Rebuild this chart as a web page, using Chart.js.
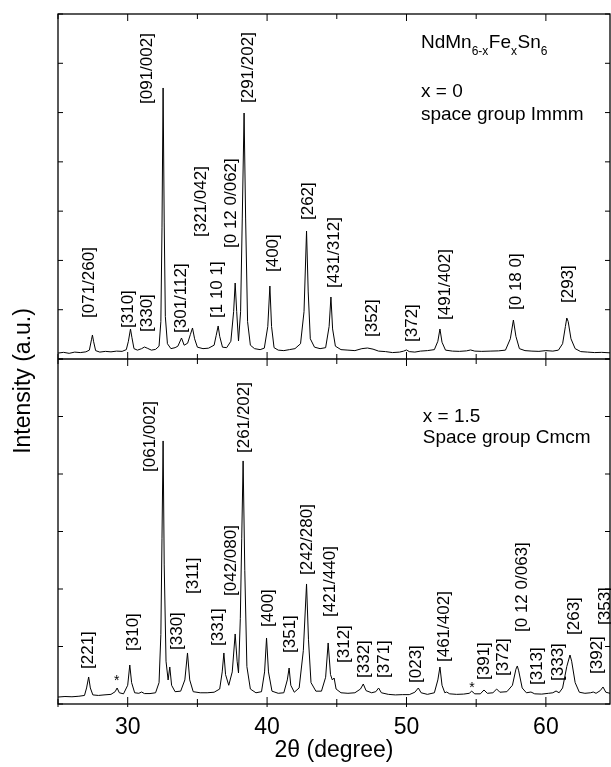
<!DOCTYPE html>
<html>
<head>
<meta charset="utf-8">
<script src="https://cdn.jsdelivr.net/npm/chart.js@4.4.1/dist/chart.umd.min.js"></script>
<style>
  html, body { margin: 0; padding: 0; background: #fff; }
  #wrap { width: 611px; height: 767px; }
</style>
</head>
<body>
<div id="wrap"><canvas id="xrd" width="611" height="767"></canvas></div>
<script>
// x = 0 pattern (upper panel)
const topAngle = [25.0, 25.4, 25.8, 26.2, 26.6, 27.0, 27.25, 27.4, 27.47, 27.55, 27.7, 28.0, 28.4, 28.8, 29.2, 29.6, 29.9,
  30.05, 30.2, 30.3, 30.45, 30.7, 31.0, 31.2, 31.4, 31.7, 32.0, 32.25, 32.38, 32.46, 32.54, 32.62, 32.7, 32.85,
  33.1, 33.4, 33.6, 33.86, 34.05, 34.3, 34.5, 34.65, 34.8, 35.0, 35.4, 35.8, 36.2, 36.35, 36.49, 36.6, 36.8,
  37.1, 37.4, 37.6, 37.71, 37.82, 37.95, 38.1, 38.22, 38.35, 38.46, 38.6, 38.8, 39.1, 39.5, 39.8, 40.05, 40.2,
  40.32, 40.5, 40.8, 41.2, 41.6, 42.0, 42.4, 42.65, 42.83, 42.95, 43.1, 43.4, 43.8, 44.2, 44.45, 44.58, 44.7,
  44.9, 45.3, 45.8, 46.3, 46.8, 47.2, 47.6, 48.0, 48.5, 49.0, 49.5, 49.8, 50.0, 50.2, 50.6, 51.0, 51.5, 52.0,
  52.25, 52.4, 52.55, 52.8, 53.3, 53.8, 54.3, 54.6, 54.9, 55.4, 56.0, 56.6, 57.1, 57.45, 57.67, 57.85, 58.1,
  58.5, 59.0, 59.5, 60.0, 60.5, 60.9, 61.2, 61.4, 61.5, 61.6, 61.8, 62.1, 62.5, 63.0, 63.5, 64.0, 64.6];
const topCounts = [60, 75, 55, 80, 70, 85, 120, 330, 427, 300, 110, 80, 95, 85, 100, 95, 130,
  300, 549, 380, 150, 120, 150, 183, 160, 120, 135, 200, 700, 2600, 5439, 2700, 800, 250,
  150, 170, 200, 366, 220, 260, 440, 569, 350, 180, 150, 160, 220, 420, 610, 400, 180,
  170, 300, 900, 1482, 900, 305, 900, 2800, 4931, 2800, 700, 220, 150, 130, 160, 600, 1421,
  600, 170, 120, 110, 130, 150, 250, 900, 2537, 1300, 350, 180, 150, 170, 600, 1198, 550,
  200, 130, 120, 110, 150, 163, 140, 100, 90, 70, 80, 100, 123, 90, 80, 100, 110, 130,
  300, 549, 280, 120, 100, 95, 105, 123, 100, 95, 100, 105, 120, 350, 731, 400, 150,
  110, 100, 95, 110, 100, 120, 250, 600, 772, 700, 350, 150, 90, 80, 70, 75, 65];

// x = 1.5 pattern (lower panel)
const botAngle = [25.0, 25.5, 26.0, 26.5, 26.9, 27.05, 27.2, 27.32, 27.5, 27.9, 28.3, 28.8, 29.1, 29.24, 29.4, 29.7,
  30.0, 30.15, 30.28, 30.5, 30.8, 31.0, 31.2, 31.6, 32.0, 32.25, 32.38, 32.46, 32.54, 32.62, 32.75, 32.9, 33.02,
  33.15, 33.4, 33.8, 34.1, 34.29, 34.45, 34.7, 35.2, 35.7, 36.2, 36.6, 36.78, 36.9, 37.02, 37.25, 37.5, 37.71,
  37.85, 37.95, 38.08, 38.18, 38.28, 38.4, 38.55, 38.8, 39.2, 39.6, 39.82, 39.96, 40.1, 40.35, 40.8, 41.2, 41.45,
  41.58, 41.7, 41.95, 42.3, 42.6, 42.83, 42.97, 43.15, 43.5, 43.9, 44.2, 44.38, 44.55, 44.68, 44.81, 44.95, 45.3,
  45.8, 46.3, 46.7, 46.9, 47.1, 47.5, 47.8, 48.0, 48.2, 48.7, 49.2, 49.7, 50.2, 50.6, 50.85, 51.05, 51.5, 52.0,
  52.25, 52.4, 52.55, 52.75, 52.88, 53.1, 53.6, 54.1, 54.5, 54.68, 54.9, 55.3, 55.56, 55.8, 56.2, 56.47, 56.7,
  57.2, 57.6, 57.85, 57.95, 58.05, 58.3, 58.6, 58.93, 59.2, 59.7, 60.2, 60.5, 60.73, 60.95, 61.2, 61.5, 61.73,
  61.85, 62.1, 62.4, 62.8, 63.2, 63.4, 63.6, 63.9, 64.1, 64.3, 64.6];
const botCounts = [30, 40, 35, 45, 60, 200, 405, 200, 70, 60, 70, 80, 130, 199, 110, 90,
  250, 629, 300, 110, 100, 124, 95, 95, 110, 300, 1200, 3000, 4818, 2500, 700, 349, 592,
  250, 130, 140, 350, 854, 350, 130, 110, 110, 120, 180, 500, 854, 450, 250, 500, 1209,
  700, 480, 1500, 3000, 4444, 2400, 600, 180, 110, 130, 500, 1134, 500, 140, 100, 110, 350,
  573, 250, 120, 200, 900, 2144, 1100, 300, 140, 140, 400, 1041, 450, 350, 386, 180, 110,
  100, 110, 180, 274, 150, 110, 130, 199, 110, 80, 70, 75, 75, 120, 199, 110, 80, 110,
  350, 592, 250, 110, 124, 90, 80, 85, 100, 140, 90, 90, 162, 100, 110, 180, 120,
  130, 250, 550, 611, 520, 200, 110, 124, 90, 85, 100, 110, 143, 110, 200, 600, 816,
  700, 300, 120, 100, 110, 124, 100, 150, 218, 120, 100];

// reflection labels: text, 2theta of label, counts at the foot of the label
const topTags = ['[071/260]', '[310]', '[330]', '[091/002]', '[301/112]', '[321/042]', '[1 10 1]', '[0 12 0/062]',
  '[291/202]', '[400]', '[262]', '[431/312]', '[352]', '[372]', '[491/402]', '[0 18 0]', '[293]'];
const topTagAngle = [27.2, 30.0, 31.37, 31.37, 33.74, 35.18, 36.39, 37.33, 38.55, 40.34, 42.85, 44.72, 47.45, 50.32, 52.69, 57.79, 61.52];
const topTagCounts = [772, 569, 488, 5114, 468, 2415, 772, 2192, 5134, 1705, 2760, 1381, 386, 285, 731, 934, 1076];

const botTags = ['[221]', '*', '[310]', '[061/002]', '[330]', '[311]', '[331]', '[042/080]', '[261/202]', '[400]', '[351]',
  '[242/280]', '[421/440]', '[312]', '[332]', '[371]', '[023]', '[461/402]', '*', '[391]', '[372]', '[0 12 0/063]',
  '[313]', '[333]', '[263]', '[392]', '[353]'];
const botTagAngle = [27.13, 29.21, 30.36, 31.58, 33.52, 34.6, 36.46, 37.33, 38.26, 40.05, 41.56, 42.78, 44.43, 45.44,
  46.87, 48.31, 50.61, 52.62, 54.7, 55.49, 56.85, 58.22, 59.3, 60.81, 61.96, 63.6, 64.17];
const botTagCounts = [555, 386, 891, 4238, 910, 1957, 985, 1920, 4594, 1340, 854, 2312, 1527, 667, 386, 386, 293, 685,
  255, 349, 424, 1246, 255, 330, 1190, 461, 1377];

const FONT = '"Liberation Sans", Arial, Helvetica, sans-serif';

function toPoints(xs, ys) {
  return xs.map((x, i) => ({ x: x, y: ys[i] }));
}

// frame, tick marks, labels and captions
const decor = {
  id: 'decor',
  afterDatasetsDraw(chart) {
    const ctx = chart.ctx;
    const a = chart.chartArea;
    const sx = chart.scales.x, ya = chart.scales.yA, yb = chart.scales.yB;
    const mid = ya.bottom;
    ctx.save();
    ctx.strokeStyle = '#000';
    ctx.lineWidth = 1.3;
    ctx.strokeRect(a.left, a.top, a.right - a.left, a.bottom - a.top);
    ctx.beginPath();
    ctx.moveTo(a.left, mid);
    ctx.lineTo(a.right, mid);
    ctx.stroke();

    ctx.lineWidth = 1;
    ctx.beginPath();
    sx.ticks.forEach(t => {
      if (t.value % 5 !== 0) return;
      const px = sx.getPixelForValue(t.value);
      const len = t.value % 10 === 0 ? 7 : 5;
      ctx.moveTo(px, a.top); ctx.lineTo(px, a.top + len);
      ctx.moveTo(px, mid - len); ctx.lineTo(px, mid + len);
      ctx.moveTo(px, a.bottom - len); ctx.lineTo(px, a.bottom + 3);
    });
    [ya, yb].forEach(s => {
      s.ticks.forEach(t => {
        const py = s.getPixelForValue(t.value);
        ctx.moveTo(a.left, py); ctx.lineTo(a.left + 5, py);
        ctx.moveTo(a.right, py); ctx.lineTo(a.right - 5, py);
      });
    });
    ctx.stroke();

    // reflection labels
    ctx.fillStyle = '#000';
    const tagSet = [[topTags, topTagAngle, topTagCounts, ya], [botTags, botTagAngle, botTagCounts, yb]];
    tagSet.forEach(([tags, ang, cnt, s]) => {
      tags.forEach((txt, i) => {
        const px = sx.getPixelForValue(ang[i]);
        const py = s.getPixelForValue(cnt[i]);
        if (txt === '*') {
          ctx.font = '14px ' + FONT;
          ctx.textAlign = 'center';
          ctx.textBaseline = 'middle';
          ctx.fillText(txt, px, py + 3);
          return;
        }
        ctx.save();
        ctx.translate(px, py);
        ctx.rotate(-Math.PI / 2);
        ctx.font = '17px ' + FONT;
        ctx.textAlign = 'left';
        ctx.textBaseline = 'middle';
        ctx.fillText(txt, 0, 1);
        ctx.restore();
      });
    });

    // captions
    ctx.textAlign = 'left';
    ctx.textBaseline = 'alphabetic';
    let cx = sx.getPixelForValue(51.04);
    const by = ya.getPixelForValue(6250);
    const parts = [['NdMn', 0], ['6-x', 1], ['Fe', 0], ['x', 1], ['Sn', 0], ['6', 1]];
    parts.forEach(([s, sub]) => {
      ctx.font = (sub ? '12px ' : '19px ') + FONT;
      ctx.fillText(s, cx, by + (sub ? 7 : 0));
      cx += ctx.measureText(s).width + (sub ? 0.5 : 0);
    });
    ctx.font = '19px ' + FONT;
    ctx.fillText('x = 0', sx.getPixelForValue(51.04), ya.getPixelForValue(5256));
    ctx.fillText('space group Immm', sx.getPixelForValue(51.04), ya.getPixelForValue(4789));
    ctx.fillText('x = 1.5', sx.getPixelForValue(51.17), yb.getPixelForValue(5173));
    ctx.fillText('Space group Cmcm', sx.getPixelForValue(51.17), yb.getPixelForValue(4781));

    // shared y title
    ctx.save();
    ctx.translate(24, (a.top + a.bottom) / 2 + 22);
    ctx.rotate(-Math.PI / 2);
    ctx.font = '23px ' + FONT;
    ctx.textAlign = 'center';
    ctx.textBaseline = 'middle';
    ctx.fillText('Intensity (a.u.)', 0, 0);
    ctx.restore();
    ctx.restore();
  }
};

const yPanel = (min, max) => ({
  type: 'linear',
  position: 'left',
  stack: 'panels',
  stackWeight: 1,
  min: min,
  max: max,
  ticks: { display: false, stepSize: 1000 },
  grid: { display: false },
  border: { display: false },
  afterFit(s) { s.width = 58; }
});

new Chart(document.getElementById('xrd').getContext('2d'), {
  type: 'line',
  data: {
    datasets: [
      { label: 'x = 0', data: toPoints(topAngle, topCounts), yAxisID: 'yA' },
      { label: 'x = 1.5', data: toPoints(botAngle, botCounts), yAxisID: 'yB' }
    ]
  },
  options: {
    responsive: false,
    animation: false,
    layout: { padding: { top: 14, right: 1, left: 0, bottom: 0 } },
    elements: {
      line: { borderColor: '#000', borderWidth: 1, tension: 0 },
      point: { radius: 0 }
    },
    plugins: { legend: { display: false }, tooltip: { enabled: false } },
    scales: {
      x: {
        type: 'linear',
        min: 25,
        max: 64.6,
        grid: { display: false },
        border: { display: false },
        ticks: {
          stepSize: 5,
          includeBounds: false,
          padding: 2,
          color: '#000',
          font: { family: FONT, size: 23 },
          maxRotation: 0,
          autoSkip: false,
          callback: v => (v % 10 === 0 ? v : '')
        },
        title: { display: true, text: '2θ (degree)', color: '#000', font: { family: FONT, size: 23 }, padding: { top: 0, bottom: 3 } },
        afterFit(s) { s.height = 63; }
      },
      // the first axis of a stack is laid out at the bottom
      yB: yPanel(-100, 6350),
      yA: yPanel(-60, 6940)
    }
  },
  plugins: [decor]
});
</script>
</body>
</html>
